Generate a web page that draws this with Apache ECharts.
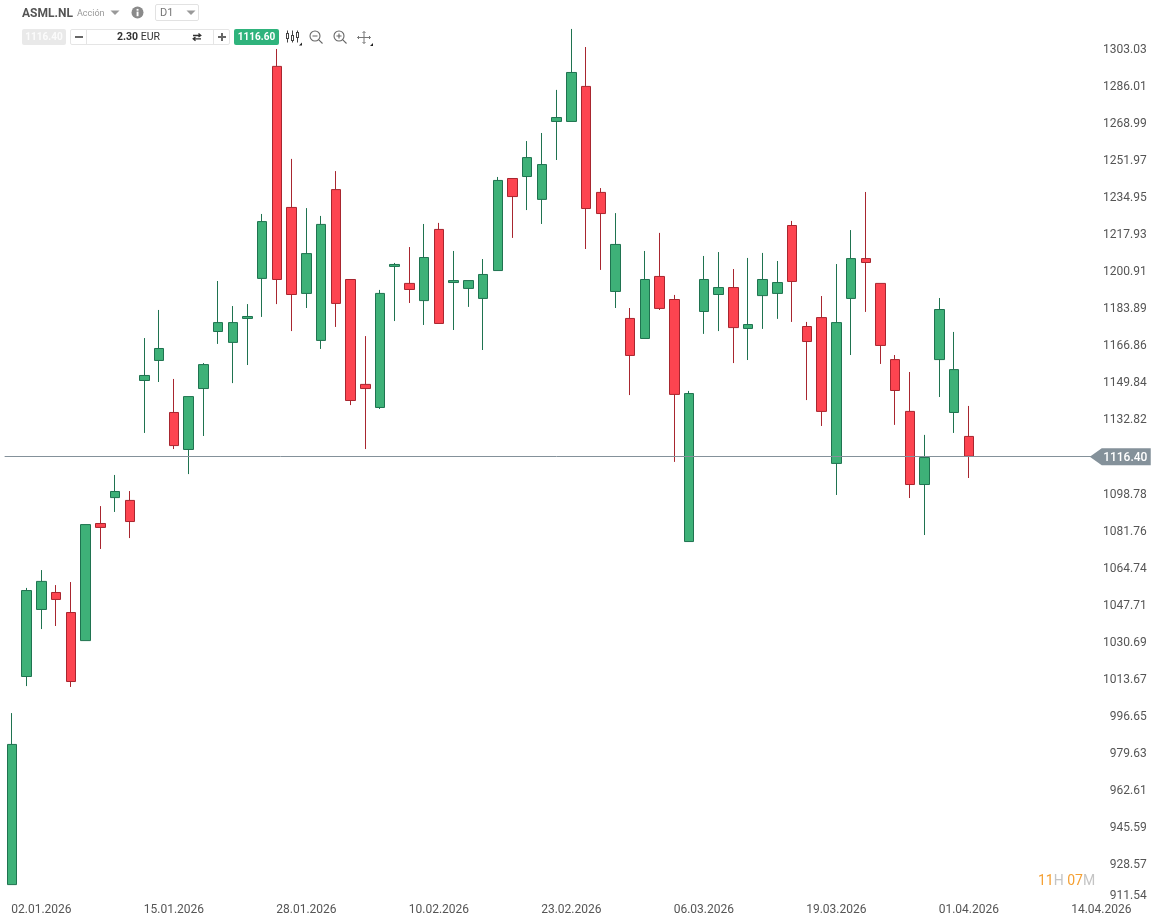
<!DOCTYPE html>
<html>
<head>
<meta charset="utf-8">
<title>ASML.NL</title>
<script src="https://cdn.jsdelivr.net/npm/echarts@6/dist/echarts.min.js"></script>
<style>
    html, body { margin: 0; padding: 0; background: #fff; font-family: Roboto, sans-serif; }
    #chart { position: absolute; left: 0; top: 0; width: 1157px; height: 922px; }
    .t { position: absolute; white-space: nowrap; }
    .box { position: absolute; box-sizing: border-box; }
    svg { position: absolute; overflow: visible; }
</style>
</head>
<body>
<div id="chart"></div>

<!-- barra superior -->
<div class="t" style="left:22px;top:5px;font-size:12px;line-height:16px;font-weight:700;color:#555;">ASML.NL</div>
<div class="t" style="left:77px;top:7px;font-size:9px;line-height:12px;color:#999;">Acción</div>
<svg style="left:110px;top:10px" width="10" height="6"><path d="M0.5 0.5H9.5L5 5Z" fill="#999"/></svg>
<svg style="left:131px;top:6px" width="13" height="13"><circle cx="6.5" cy="6.5" r="6" fill="#8a8a8a"/><rect x="5.6" y="5.6" width="1.9" height="4.6" fill="#fff"/><rect x="5.6" y="2.9" width="1.9" height="1.8" fill="#fff"/></svg>
<div class="box" style="left:155px;top:4px;width:44px;height:17px;border:1px solid #e2e2e2;border-radius:2px;"></div>
<div class="t" style="left:160px;top:6px;font-size:11px;line-height:14px;color:#777;">D1</div>
<svg style="left:186px;top:10px" width="10" height="6"><path d="M0.5 0.5H9.5L5 5Z" fill="#999"/></svg>

<div class="box" style="left:22px;top:29px;width:44px;height:16px;background:#e9e9e9;border-radius:2px;"></div>
<div class="t" style="left:22px;top:29px;width:44px;text-align:center;font-size:10px;line-height:16px;font-weight:700;color:#fbfbfb;">1116.40</div>
<div class="box" style="left:70px;top:29px;width:160px;height:16px;border:1px solid #e5e5e5;border-radius:2px;"></div>
<div class="box" style="left:86px;top:30px;width:1px;height:14px;background:#e5e5e5;"></div>
<div class="box" style="left:213px;top:30px;width:1px;height:14px;background:#e5e5e5;"></div>
<div class="box" style="left:75px;top:36px;width:8px;height:2px;background:#666;"></div>
<div class="box" style="left:218px;top:36px;width:8px;height:2px;background:#666;"></div>
<div class="box" style="left:221px;top:33px;width:2px;height:8px;background:#666;"></div>
<div class="t" style="left:117px;top:29px;font-size:10.5px;line-height:16px;color:#333;"><b>2.30</b> EUR</div>
<svg style="left:192px;top:32px" width="10" height="10" fill="none" stroke="#333" stroke-width="1.3"><path d="M1 3.5H8.5M6.5 1.5L8.8 3.5L6.5 5"/><path d="M9 6.8H1.5M3.5 5L1.2 6.8L3.5 8.8"/></svg>
<div class="box" style="left:234px;top:29px;width:45px;height:16px;background:#2fb37c;border-radius:2px;"></div>
<div class="t" style="left:234px;top:29px;width:45px;text-align:center;font-size:10px;line-height:16px;font-weight:700;color:#fff;">1116.60</div>

<svg style="left:286px;top:30px" width="16" height="16" fill="none" stroke="#444" stroke-width="1"><path d="M1.5 0.5V12.5M6.5 0.5V12.5M11.5 0.5V12.5"/><rect x="0.5" y="3.5" width="2" height="5" fill="#fff"/><rect x="5.5" y="5.5" width="2" height="5" fill="#fff"/><rect x="10.5" y="2.5" width="2" height="5" fill="#fff"/><path d="M16 12.5V15.5H13Z" fill="#222" stroke="none"/></svg>
<svg style="left:309px;top:30px" width="15" height="15" fill="none" stroke="#666" stroke-width="1.1"><circle cx="6" cy="6" r="5"/><path d="M3.5 6H8.5M9.6 9.6L13.5 13.5"/></svg>
<svg style="left:333px;top:30px" width="15" height="15" fill="none" stroke="#666" stroke-width="1.1"><circle cx="6" cy="6" r="5"/><path d="M3.5 6H8.5M6 3.5V8.5M9.6 9.6L13.5 13.5"/></svg>
<svg style="left:357px;top:31px" width="16" height="15" fill="none" stroke="#777" stroke-width="1"><path d="M0.5 6.5H13.5M7 0.5V12.5M5.5 2L7 0.5L8.5 2M5.5 11L7 12.5L8.5 11M2 5L0.5 6.5L2 8M12 5L13.5 6.5L12 8"/><path d="M16 12V15H13Z" fill="#222" stroke="none"/></svg>

<!-- cuenta atrás -->
<div class="t" style="left:1038px;top:871px;font-size:14px;line-height:18px;color:#c4c4c4;"><span style="color:#f5a033">11</span>H <span style="color:#f5a033">07</span>M</div>

<script>
    // fechas del eje (los últimos días de la lista son futuros, sin vela)
    var categories = [
        '30.12.2025','31.12.2025','02.01.2026','05.01.2026','06.01.2026','07.01.2026','08.01.2026','09.01.2026',
        '12.01.2026','13.01.2026','14.01.2026','15.01.2026','16.01.2026','19.01.2026','20.01.2026','21.01.2026',
        '22.01.2026','23.01.2026','26.01.2026','27.01.2026','28.01.2026','29.01.2026','30.01.2026','02.02.2026',
        '03.02.2026','04.02.2026','05.02.2026','06.02.2026','09.02.2026','10.02.2026','11.02.2026','12.02.2026',
        '13.02.2026','16.02.2026','17.02.2026','18.02.2026','19.02.2026','20.02.2026','23.02.2026','24.02.2026',
        '25.02.2026','26.02.2026','27.02.2026','02.03.2026','03.03.2026','04.03.2026','05.03.2026','06.03.2026',
        '09.03.2026','10.03.2026','11.03.2026','12.03.2026','13.03.2026','16.03.2026','17.03.2026','18.03.2026',
        '19.03.2026','20.03.2026','23.03.2026','24.03.2026','25.03.2026','26.03.2026','27.03.2026','30.03.2026',
        '31.03.2026','01.04.2026','02.04.2026','03.04.2026','06.04.2026','07.04.2026','08.04.2026','09.04.2026',
        '10.04.2026','13.04.2026','14.04.2026'
    ];
    var dateLabels = ['02.01.2026','15.01.2026','28.01.2026','10.02.2026','23.02.2026','06.03.2026','19.03.2026','01.04.2026','14.04.2026'];

    var opens = [
        919.6,1015.2,1046.0,1053.8,1044.6,1031.7,1085.5,1097.4,1096.1,1151.2,1160.4,1136.5,1119.5,1147.5,1173.7,1168.7,1179.7,
        1198.1,1295.5,1230.7,1191.2,1169.6,1238.9,1197.6,1149.4,1138.8,1203.6,1195.8,1187.9,1220.6,1196.2,1193.5,1188.9,
        1201.7,1244.0,1244.9,1234.4,1270.2,1270.2,1286.3,1237.6,1192.1,1179.7,1170.5,1199.0,1188.4,1077.2,1182.9,1190.7,
        1193.9,1175.1,1190.2,1191.2,1222.4,1176.0,1180.1,1113.1,1188.9,1207.2,1195.8,1160.8,1137.0,1103.4,1160.8,1136.5,1125.5
    ];
    var closes = [
        984.0,1054.7,1058.9,1050.6,1012.9,1085.0,1083.7,1100.2,1086.4,1153.5,1165.9,1121.3,1143.8,1158.5,1177.8,1177.8,1180.6,
        1224.2,1197.6,1190.7,1209.5,1222.9,1186.6,1142.0,1147.5,1191.2,1204.5,1193.0,1207.7,1177.4,1197.1,1197.1,1199.9,
        1243.1,1235.7,1253.6,1250.4,1272.0,1292.7,1230.2,1227.9,1213.7,1162.7,1197.6,1184.3,1144.8,1145.2,1197.6,1193.9,
        1175.5,1176.9,1197.6,1196.2,1196.7,1169.1,1137.0,1177.8,1207.2,1205.4,1167.3,1146.6,1103.4,1115.8,1183.8,1156.2,1116.4
    ];
    var lows = [
        919.6,1010.8,1037.0,1038.4,1010.4,1031.7,1073.8,1090.8,1078.8,1127.1,1150.5,1119.7,1108.2,1125.7,1168.0,1150.0,1158.3,
        1180.4,1186.3,1173.9,1184.5,1165.7,1175.8,1139.9,1119.7,1138.1,1178.5,1186.8,1176.7,1177.4,1174.4,1185.0,1165.2,
        1201.7,1216.7,1229.5,1223.1,1252.5,1270.2,1211.6,1202.0,1184.5,1144.5,1170.5,1183.6,1113.8,1077.2,1172.6,1173.9,
        1159.2,1160.6,1174.9,1179.5,1178.1,1142.2,1130.3,1098.6,1162.9,1182.7,1158.8,1130.8,1097.2,1080.2,1143.6,1127.1,1106.4
    ];
    var highs = [
        998.4,1055.9,1064.1,1057.2,1058.6,1085.0,1093.5,1107.8,1100.4,1170.7,1183.6,1151.9,1143.8,1159.2,1196.9,1185.4,1186.3,
        1227.7,1303.5,1253.0,1230.4,1226.8,1247.4,1197.6,1171.6,1192.8,1205.2,1212.5,1223.1,1223.6,1210.7,1197.1,1207.0,
        1244.7,1244.0,1261.2,1264.9,1284.7,1312.7,1304.4,1239.6,1228.1,1184.5,1210.7,1219.0,1190.5,1146.4,1208.4,1210.2,
        1202.4,1207.5,1209.8,1206.1,1224.5,1178.1,1190.0,1204.7,1220.3,1237.8,1195.8,1162.9,1155.1,1126.2,1189.1,1173.5,1139.5
    ];
    var priceTicks = [
        911.54,928.57,945.59,962.61,979.63,996.65,1013.67,1030.69,1047.71,1064.74,1081.76,1098.78,
        1132.82,1149.84,1166.86,1183.89,1200.91,1217.93,1234.95,1251.97,1268.99,1286.01,1303.03
    ];
    var lastPrice = 1116.40;

    var candles = opens.map(function (o, i) {
        return [o, closes[i], lows[i], highs[i]];
    });

    var chart = echarts.init(document.getElementById('chart'));
    var option = {
        animation: false,
        textStyle: { fontFamily: 'Roboto' },
        grid: { left: 4.64, width: 1104, top: 0, height: 902.15 },
        xAxis: {
            type: 'category',
            data: categories,
            boundaryGap: true,
            axisLine: { show: false },
            axisTick: { show: false },
            splitLine: { show: false },
            axisLabel: {
                color: '#555',
                fontSize: 12,
                margin: 2,
                hideOverlap: false,
                interval: function (i, v) { return dateLabels.indexOf(v) >= 0; }
            }
        },
        yAxis: {
            type: 'value',
            position: 'right',
            min: 911.54,
            max: 1326,
            axisLine: { show: false },
            axisTick: { show: false },
            splitLine: { show: false },
            axisLabel: {
                color: '#555',
                fontSize: 12,
                align: 'right',
                margin: 38,
                customValues: priceTicks,
                verticalAlignMinLabel: 'bottom',
                showMinLabel: true,
                showMaxLabel: true,
                formatter: function (v) { return v.toFixed(2); }
            }
        },
        series: [{
            type: 'candlestick',
            data: candles,
            barWidth: 10,
            itemStyle: {
                color: '#3eb178',
                color0: '#fd4450',
                borderColor: '#1f7350',
                borderColor0: '#a8262f',
                borderWidth: 1
            },
            markLine: {
                silent: true,
                symbol: 'none',
                label: { show: false },
                lineStyle: { color: '#84919a', width: 1, type: 'solid' },
                data: [{ yAxis: lastPrice }]
            },
            markPoint: {
                silent: true,
                symbol: 'path://M0 8.5L12 0H61V17H12Z',
                symbolSize: [61, 17],
                symbolKeepAspect: false,
                symbolOffset: [19, 0.5],
                itemStyle: { color: '#84919a' },
                label: {
                    show: true,
                    color: '#fff',
                    fontSize: 12,
                    fontWeight: 500,
                    offset: [5, 1],
                    formatter: function () { return lastPrice.toFixed(2); }
                },
                data: [{ coord: ['14.04.2026', lastPrice] }]
            }
        }]
    };
    chart.setOption(option);
</script>
</body>
</html>
